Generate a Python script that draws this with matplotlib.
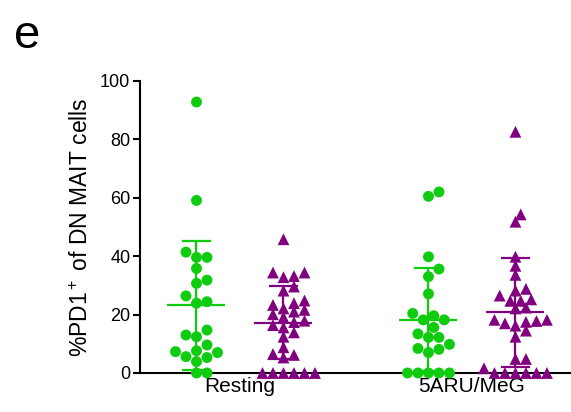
import numpy as np
import matplotlib
matplotlib.use('Agg')
import matplotlib.pyplot as plt

# categories and values (% PD1+ of DN MAIT cells)
groups = ['Resting', '5ARU/MeG']

green_resting = [92.8, 59.1, 39.6, 41.4, 39.6, 35.8, 30.7, 31.8, 26.4, 24.4, 23.9,
                 14.7, 13.0, 12.4, 9.6, 7.3, 7.6, 7.0, 5.6, 5.3, 3.9, 0.0, 0.0]
purple_resting = [45.8, 34.4, 32.8, 33.2, 34.4, 29.6, 28.2, 24.8, 23.3, 23.9, 21.0,
                  22.1, 21.6, 20.1, 19.1, 17.4, 17.9, 15.6, 16.4, 13.9, 12.4, 8.8,
                  6.2, 5.3, 6.5, 0.0, 0.0, 0.0, 0.0, 0.0, 0.0]
green_5aru = [62.0, 60.5, 39.8, 35.6, 33.0, 27.1, 20.4, 19.6, 18.2, 18.2, 15.6,
              13.4, 12.2, 12.2, 9.8, 8.1, 7.0, 8.4, 0.0, 0.0, 0.0, 0.0, 0.0]
purple_5aru = [82.6, 51.8, 54.3, 39.8, 36.7, 33.6, 28.8, 28.2, 26.5, 24.7, 24.7,
               25.2, 22.4, 22.1, 17.0, 18.2, 17.8, 18.2, 17.5, 16.2, 14.5, 12.4,
               4.8, 4.8, 1.6, 0.0, 0.0, 0.0, 0.0, 0.0, 0.0]

GREEN = '#10cc10'
PURPLE = '#800080'

plt.rcParams['font.family'] = ['Liberation Sans', 'DejaVu Sans']
plt.rcParams['mathtext.fontset'] = 'custom'
plt.rcParams['mathtext.rm'] = 'Liberation Sans'
plt.rcParams['mathtext.it'] = 'Liberation Sans:italic'

fig = plt.figure(figsize=(5.71, 4.12), dpi=100)
ax = fig.add_axes([0.2452, 0.0947, 0.7528, 0.7087])
ax.set_xlim(-0.431, 1.422)
ax.set_ylim(0, 100)

# pixel scales, used to pack points like a swarm
ax_w = 0.7528 * 571
ax_h = 0.7087 * 412
ppx = ax_w / (1.422 + 0.431)
ppy = ax_h / 100.0
diam = 10.5


def swarm(values, sep=1.0):
    vals = np.asarray(values, dtype=float)
    order = np.argsort(vals, kind='stable')
    placed = []
    offs = np.zeros(len(vals))
    step = diam / 2.0
    for i in order:
        y = vals[i] * ppy
        x = 0.0
        for k in [0, 1, -1, 2, -2, 3, -3, 4, -4, 5, -5, 6, -6]:
            x = k * step
            ok = True
            for px, py in placed:
                if (x - px) ** 2 + (y - py) ** 2 < (diam * sep) ** 2:
                    ok = False
                    break
            if ok:
                break
        placed.append((x, y))
        offs[i] = x / ppx
    return offs


series = [
    (0, -0.1875, green_resting, GREEN, 'o'),
    (0, 0.1875, purple_resting, PURPLE, '^'),
    (1, -0.1875, green_5aru, GREEN, 'o'),
    (1, 0.1875, purple_5aru, PURPLE, '^'),
]

for g, shift, vals, col, mk in series:
    xc = g + shift
    xs = xc + swarm(vals, 0.95 if mk == 'o' else 0.8)
    ax.scatter(xs, vals, s=62 if mk == 'o' else 72, marker=mk, color=col,
               edgecolors='none', clip_on=False, zorder=3)
    m = np.mean(vals)
    sd = np.std(vals, ddof=1)
    ax.hlines(m, xc - 0.125, xc + 0.125, color=col, lw=1.6, zorder=4, clip_on=False)
    ax.vlines(xc, max(m - sd, 0), m + sd, color=col, lw=1.6, zorder=4, clip_on=False)
    ax.hlines([max(m - sd, 0), m + sd], xc - 0.063, xc + 0.063, color=col, lw=1.6,
              zorder=4, clip_on=False)

for s in ['top', 'right']:
    ax.spines[s].set_visible(False)
for s in ['left', 'bottom']:
    ax.spines[s].set_linewidth(1.5)

ax.set_yticks([0, 20, 40, 60, 80, 100])
ax.tick_params(axis='y', direction='out', length=5, width=1.5, labelsize=13, pad=2)
ax.set_xticks([0, 1])
ax.set_xticklabels(groups)
ax.tick_params(axis='x', length=0, labelsize=15, pad=3)

ax.set_ylabel('%PD1$^+$ of DN MAIT cells', fontsize=16.5, labelpad=5)

fig.text(0.025, 0.965, 'e', fontsize=34, va='top', ha='left')

fig.savefig('out.png', dpi=100)
